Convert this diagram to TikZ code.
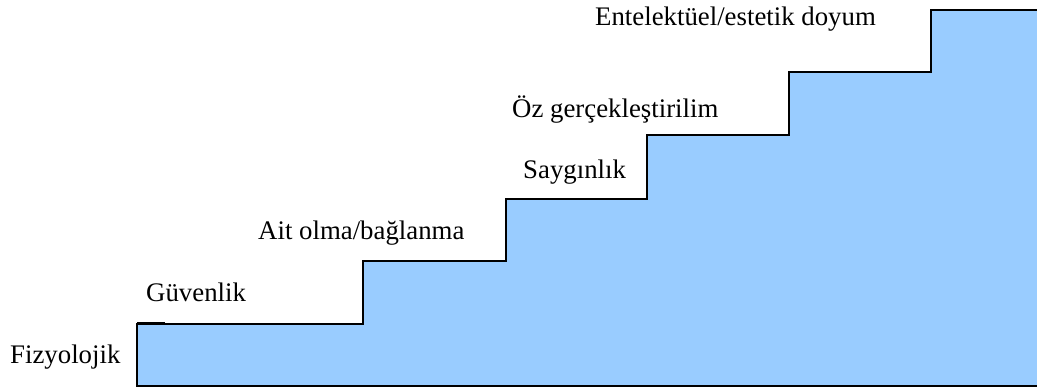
\documentclass[tikz,border=0pt]{standalone}
\usepackage{fontspec}
\setmainfont{Liberation Serif}
\definecolor{stairblue}{HTML}{99CCFF}
\begin{document}
\begin{tikzpicture}[x=1pt,y=1pt,
  lbl/.style={anchor=base west,inner sep=0pt,font=\fontsize{26.8}{30}\selectfont},
  edge/.style={draw=black,line width=1.6pt,line join=miter}]
\useasboundingbox (0,0) rectangle (1037,388);
\fill[stairblue] (137,2) -- (137,64) -- (363,64) -- (363,127) -- (506,127) -- (506,189)
  -- (647,189) -- (647,253) -- (789,253) -- (789,316) -- (931,316) -- (931,378)
  -- (1037,378) -- (1037,2) -- cycle;
\draw[edge] (1037,378) -- (931,378) -- (931,316) -- (789,316) -- (789,253) -- (647,253)
  -- (647,189) -- (506,189) -- (506,127) -- (363,127) -- (363,64) -- (137,64)
  -- (137,2) -- (1037,2);
\draw[black,line width=2.4pt] (137,64.4) -- (165,64.4);
\node[lbl] (fiz) at (10,24) {Fizyolojik};
\node[lbl] (guv) at (146,86) {Güvenlik};
\node[lbl] (ait) at (258,148) {Ait olma/bağlanma};
\node[lbl] (say) at (523,209) {Saygınlık};
\node[lbl] (oz) at (512,270) {Öz gerçekleştirilim};
\node[lbl] (ent) at (595,362) {Entelektüel/estetik doyum};
\end{tikzpicture}
\end{document}
